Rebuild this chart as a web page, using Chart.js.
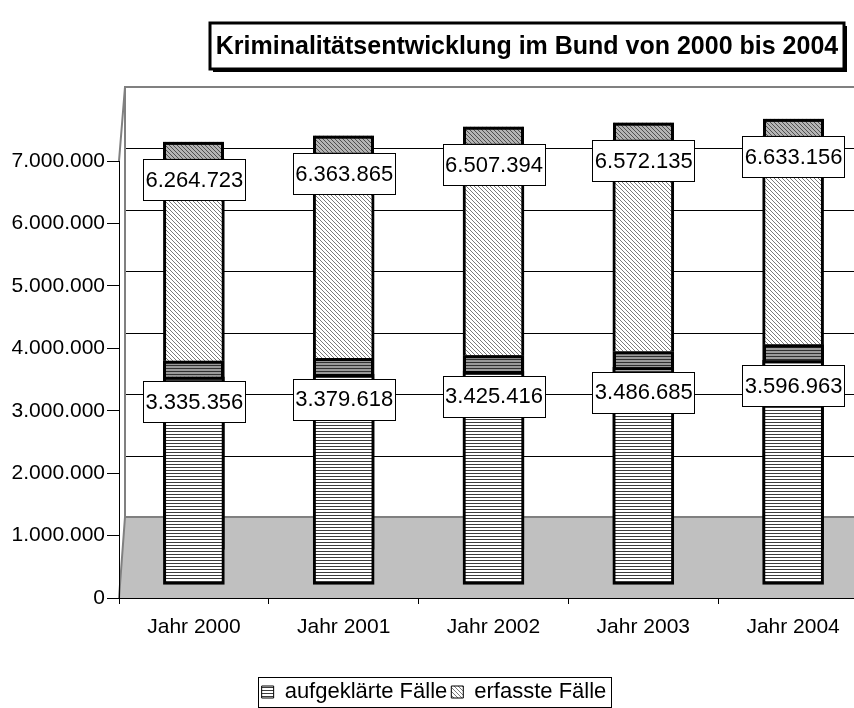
<!DOCTYPE html>
<html>
<head>
<meta charset="utf-8">
<script src="https://cdn.jsdelivr.net/npm/chart.js@4.4.0/dist/chart.umd.min.js"></script>
<style>
  html, body { margin: 0; padding: 0; background: #fff; overflow: hidden; }
  #wrap { width: 854px; height: 708px; overflow: hidden; }
</style>
</head>
<body>
<div id="wrap"><canvas id="chart" width="868" height="713"></canvas></div>
<script>
// Daten
const categories = ['Jahr 2000', 'Jahr 2001', 'Jahr 2002', 'Jahr 2003', 'Jahr 2004'];
const aufgeklaert = [3335356, 3379618, 3425416, 3486685, 3596963];
const erfasst = [6264723, 6363865, 6507394, 6572135, 6633156];
const seriesNames = ['aufgeklärte Fälle', 'erfasste Fälle'];
const yMax = 7000000;
const yStep = 1000000;
const titleText = 'Kriminalitätsentwicklung im Bund von 2000 bis 2004';

const FONT = 'Liberation Sans, Arial, sans-serif';
// 3D-Optik: Verschiebung pro Reihe (vorne / hinten), Tiefe der Deckfläche, Abstand der Beschriftung
const SERIES_DY = [13, 48];
const TOP_DEPTH = [16, 17];
const LABEL_DY = [25, 21];

const fmt = v => String(v).replace(/\B(?=(\d{3})+(?!\d))/g, '.');

const canvas = document.getElementById('chart');
const ctx = canvas.getContext('2d');

function makePattern(size, bg, draw) {
    const c = document.createElement('canvas');
    c.width = size; c.height = size;
    const g = c.getContext('2d');
    g.fillStyle = bg;
    g.fillRect(0, 0, size, size);
    draw(g, size);
    return ctx.createPattern(c, 'repeat');
}
const hLines = (bg, fg) => makePattern(3, bg, (g, s) => { g.fillStyle = fg; g.fillRect(0, 0, s, 1); });
const dLines = (bg, fg) => makePattern(4, bg, (g, s) => {
    g.fillStyle = fg;
    for (let i = 0; i < s; i++) g.fillRect(i, i, 1, 1);
});

const patFront = hLines('#ffffff', '#3c3c3c');
const patBack = dLines('#ffffff', '#7a7a7a');
const patFrontTop = hLines('#9a9a9a', '#303030');
const patBackTop = dLines('#b4b4b4', '#505050');
const topPatterns = [patFrontTop, patBackTop];

// Rahmen, Rückwand, Boden
const wallPlugin = {
    id: 'wall',
    beforeDraw(chart) {
        const { ctx, chartArea, scales: { y } } = chart;
        const y0 = y.getPixelForValue(0);
        const backY = v => (y0 - 81) - (y0 - y.getPixelForValue(v)) * 0.984;
        const left = chartArea.left, right = chartArea.right + 20;
        const bx = left + 6;
        const wallTop = backY(yMax), wallBottom = backY(0);
        ctx.save();
        // Gitterlinien auf der Rückwand
        ctx.strokeStyle = '#000';
        ctx.lineWidth = 1;
        for (let v = yStep; v < yMax; v += yStep) {
            const yy = Math.round(backY(v)) + 0.5;
            if (yy >= wallBottom) continue;
            ctx.beginPath(); ctx.moveTo(bx, yy); ctx.lineTo(right, yy); ctx.stroke();
        }
        // Boden
        ctx.fillStyle = '#c0c0c0';
        ctx.beginPath();
        ctx.moveTo(left, y0); ctx.lineTo(right, y0);
        ctx.lineTo(right, wallBottom); ctx.lineTo(bx, wallBottom);
        ctx.closePath(); ctx.fill();
        // Kanten
        ctx.strokeStyle = '#808080';
        ctx.lineWidth = 2;
        ctx.beginPath();
        ctx.moveTo(right, wallBottom); ctx.lineTo(bx, wallBottom); ctx.lineTo(left, y0);
        ctx.moveTo(bx, wallBottom); ctx.lineTo(bx, wallTop); ctx.lineTo(right, wallTop);
        ctx.moveTo(bx, wallTop); ctx.lineTo(left, chartArea.top);
        ctx.stroke();
        ctx.restore();
    }
};

// Verschiebung der Reihen in die Tiefe + Deckflächen + Wertebeschriftung
const depthPlugin = {
    id: 'depth',
    beforeDatasetDraw(chart, args) {
        chart.ctx.save();
        chart.ctx.translate(0, -SERIES_DY[args.index]);
    },
    afterDatasetDraw(chart, args) {
        const c = chart.ctx;
        const d = TOP_DEPTH[args.index];
        args.meta.data.forEach(el => {
            const { x, y, width } = el.getProps(['x', 'y', 'width'], true);
            const l = Math.round(x - width / 2);
            c.fillStyle = topPatterns[args.index];
            c.fillRect(l, y - d, Math.round(width), d);
            c.strokeStyle = '#000';
            c.lineWidth = 3;
            c.strokeRect(l + 1.5, y - d + 1.5, Math.round(width) - 3, d);
        });
        c.restore();
    },
    afterDatasetsDraw(chart) {
        const c = chart.ctx;
        c.save();
        c.font = '22px ' + FONT;
        c.textAlign = 'center';
        c.textBaseline = 'middle';
        chart.data.datasets.forEach((ds, i) => {
            chart.getDatasetMeta(i).data.forEach((el, j) => {
                const { x, y } = el.getProps(['x', 'y'], true);
                const cy = y - SERIES_DY[i] + LABEL_DY[i];
                const w = 102, h = 41;
                const l = Math.round(x - w / 2) + 0.5, t = Math.round(cy - h / 2) + 0.5;
                c.fillStyle = '#fff';
                c.fillRect(l, t, w, h);
                c.strokeStyle = '#000';
                c.lineWidth = 1;
                c.strokeRect(l, t, w, h);
                c.fillStyle = '#000';
                c.fillText(fmt(ds.data[j]), x + 0.5, cy + 1);
            });
        });
        c.restore();
    }
};

// Titel mit Rahmen, Legendenrahmen
const framePlugin = {
    id: 'frames',
    afterDraw(chart) {
        const c = chart.ctx;
        c.save();
        // Titel
        const tx = 210, ty = 23, tw = 634, th = 46;
        c.fillStyle = '#000';
        c.fillRect(tx + 3, ty + 3, tw, th);
        c.fillStyle = '#fff';
        c.fillRect(tx, ty, tw, th);
        c.strokeStyle = '#000';
        c.lineWidth = 3;
        c.strokeRect(tx, ty, tw, th);
        c.fillStyle = '#000';
        c.font = 'bold 25px ' + FONT;
        c.textAlign = 'center';
        c.textBaseline = 'middle';
        c.fillText(titleText, tx + tw / 2, ty + th / 2 + 1);
        // Legende
        const hb = chart.legend.legendHitBoxes;
        if (hb && hb.length) {
            const l = Math.min(...hb.map(b => b.left)) - 4;
            const r = Math.max(...hb.map(b => b.left + b.width)) + 4;
            const t = Math.min(...hb.map(b => b.top)) - 4;
            const b = Math.max(...hb.map(b => b.top + b.height)) + 4;
            c.strokeStyle = '#000';
            c.lineWidth = 1;
            c.strokeRect(Math.round(l) + 0.5, Math.round(t) + 0.5, Math.round(r - l), Math.round(b - t));
        }
        c.restore();
    }
};

new Chart(canvas, {
    type: 'bar',
    data: {
        labels: categories,
        datasets: [
            {
                label: seriesNames[0],
                data: aufgeklaert,
                backgroundColor: patFront,
                borderColor: '#000',
                borderWidth: 3,
                borderSkipped: false
            },
            {
                label: seriesNames[1],
                data: erfasst,
                backgroundColor: patBack,
                borderColor: '#000',
                borderWidth: 3,
                borderSkipped: false
            }
        ]
    },
    options: {
        responsive: false,
        animation: false,
        events: [],
        datasets: { bar: { grouped: false, barThickness: 61, clip: false } },
        layout: { padding: { top: 161, left: 0, right: 0, bottom: 0 } },
        scales: {
            x: {
                afterFit: s => { s.height = 79; },
                grid: { drawOnChartArea: false, drawTicks: true, tickLength: 6, color: '#000', offset: true },
                border: { color: '#000', width: 1 },
                ticks: { color: '#000', font: { family: FONT, size: 21 }, padding: 11 }
            },
            y: {
                min: 0,
                max: yMax,
                afterFit: s => { s.width = 119; },
                grid: { drawOnChartArea: false, tickLength: 12, color: '#000' },
                border: { color: '#000', width: 1 },
                ticks: { stepSize: yStep, color: '#000', font: { family: FONT, size: 21 }, padding: 2, callback: v => fmt(v) }
            }
        },
        plugins: {
            title: { display: false },
            tooltip: { enabled: false },
            legend: {
                position: 'bottom',
                labels: {
                    color: '#000',
                    font: { family: FONT, size: 22 },
                    boxWidth: 12,
                    boxHeight: 12,
                    padding: 4,
                    generateLabels: chart => chart.data.datasets.map((ds, i) => ({
                        text: ds.label,
                        fillStyle: ds.backgroundColor,
                        strokeStyle: '#000',
                        lineWidth: 1,
                        hidden: false,
                        datasetIndex: i,
                        fontColor: '#000'
                    }))
                }
            }
        }
    },
    plugins: [wallPlugin, depthPlugin, framePlugin]
});
</script>
</body>
</html>
